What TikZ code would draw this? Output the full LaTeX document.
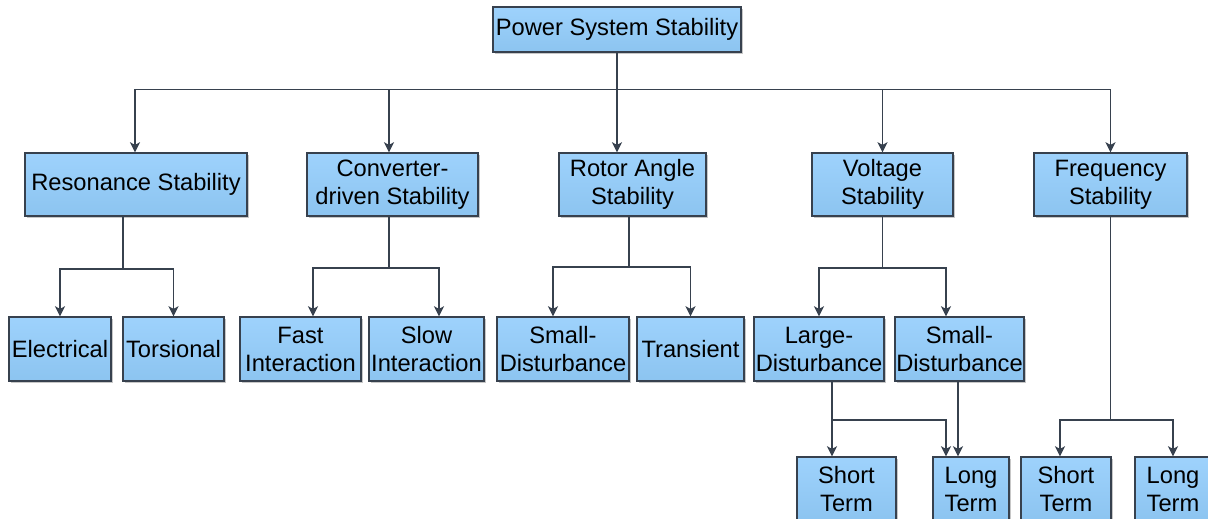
\documentclass[tikz,border=0pt]{standalone}
\usepackage{fontspec}
\setmainfont{Liberation Sans}
\usetikzlibrary{arrows.meta,shadows}
\definecolor{boxtop}{RGB}{158,210,252}
\definecolor{boxbot}{RGB}{140,196,240}
\definecolor{edgecol}{RGB}{55,65,78}
\tikzset{
  blk/.style={draw=edgecol, line width=1.4pt, top color=boxtop, bottom color=boxbot,
    inner sep=0pt, align=center, font=\fontsize{23.7}{28}\selectfont,
    drop shadow={shadow xshift=1.6pt, shadow yshift=-1.6pt, fill=black, opacity=0.22}},
  lvl1/.style={blk, minimum height=63pt},
  lvl2/.style={blk, minimum height=64pt},
  link/.style={draw=edgecol, line width=1.6pt},
  arr/.style={link, -{Stealth[length=10pt,width=10pt,inset=2.5pt]}},
}
\begin{document}
\begin{tikzpicture}[x=1pt,y=-1pt]
\useasboundingbox (0,0) rectangle (1208,519);

% root
\node[blk, minimum width=248pt, minimum height=45pt] (root) at (617,29.5) {Power System Stability};

% first level
\node[lvl1, minimum width=222pt] (res)  at (136,184.5)   {Resonance Stability};
\node[lvl1, minimum width=171pt] (conv) at (392.5,184.5) {Converter-\\driven Stability};
\node[lvl1, minimum width=147pt] (rot)  at (632.5,184.5) {Rotor Angle\\Stability};
\node[lvl1, minimum width=141pt] (volt) at (882.5,184.5) {Voltage\\Stability};
\node[lvl1, minimum width=153pt] (freq) at (1110.5,184.5) {Frequency\\Stability};

% second level
\node[lvl2, minimum width=102pt] (elec)  at (60,349)    {Electrical};
\node[lvl2, minimum width=101pt] (tors)  at (173.5,349) {Torsional};
\node[lvl2, minimum width=121pt] (fast)  at (300.5,349) {Fast\\Interaction};
\node[lvl2, minimum width=115pt] (slow)  at (426.5,349) {Slow\\Interaction};
\node[lvl2, minimum width=132pt] (smdr)  at (563,349)   {Small-\\Disturbance};
\node[lvl2, minimum width=107pt] (trans) at (690.5,349) {Transient};
\node[lvl2, minimum width=130pt] (lgdv)  at (819,349)   {Large-\\Disturbance};
\node[lvl2, minimum width=129pt] (smdv)  at (959.5,349) {Small-\\Disturbance};

% third level
\node[lvl2, minimum width=99pt] (stv) at (846.5,489) {Short\\Term};
\node[lvl2, minimum width=76pt] (ltv) at (971,489)   {Long\\Term};
\node[lvl2, minimum width=90pt] (stf) at (1066,489)  {Short\\Term};
\node[lvl2, minimum width=76pt] (ltf) at (1173,489)  {Long\\Term};

% root to first level
\path (root.south) ++(0,37) coordinate (bus);
\draw[arr] (root.south) -- (rot.north -| root.south);
\draw[arr] (bus) -| ([xshift=-1pt]res.north);
\draw[arr] (bus) -| ([xshift=-3.5pt]conv.north);
\draw[arr] (bus) -| (volt.north);
\draw[arr] (bus) -| (freq.north);

% resonance
\path ([xshift=-13pt]res.south) ++(0,52) coordinate (jres);
\draw[link] ([xshift=-13pt]res.south) -- (jres);
\draw[arr] (jres) -| (elec.north);
\draw[arr] (jres) -| (tors.north);

% converter-driven
\path ([xshift=-3.5pt]conv.south) ++(0,51) coordinate (jconv);
\draw[link] ([xshift=-3.5pt]conv.south) -- (jconv);
\draw[arr] (jconv) -| ([xshift=12.5pt]fast.north);
\draw[arr] (jconv) -| ([xshift=12.5pt]slow.north);

% rotor angle
\path ([xshift=-3.5pt]rot.south) ++(0,50) coordinate (jrot);
\draw[link] ([xshift=-3.5pt]rot.south) -- (jrot);
\draw[arr] (jrot) -| ([xshift=-10pt]smdr.north);
\draw[arr] (jrot) -| (trans.north);

% voltage
\path (volt.south) ++(0,51) coordinate (jvolt);
\draw[link] (volt.south) -- (jvolt);
\draw[arr] (jvolt) -| (lgdv.north);
\draw[arr] (jvolt) -| ([xshift=-13.5pt]smdv.north);

% large disturbance
\path ([xshift=13pt]lgdv.south) ++(0,38) coordinate (jlgd);
\draw[arr] ([xshift=13pt]lgdv.south) -- ([xshift=-14.5pt]stv.north);
\draw[arr] (jlgd) -| ([xshift=-25pt]ltv.north);

% small disturbance
\draw[arr] ([xshift=-1.5pt]smdv.south) -- ([xshift=-13pt]ltv.north);

% frequency
\path (freq.south) ++(0,203) coordinate (jfreq);
\draw[link] (freq.south) -- (jfreq);
\draw[arr] (jfreq) -| ([xshift=-6pt]stf.north);
\draw[arr] (jfreq) -| (ltf.north);
\end{tikzpicture}
\end{document}
